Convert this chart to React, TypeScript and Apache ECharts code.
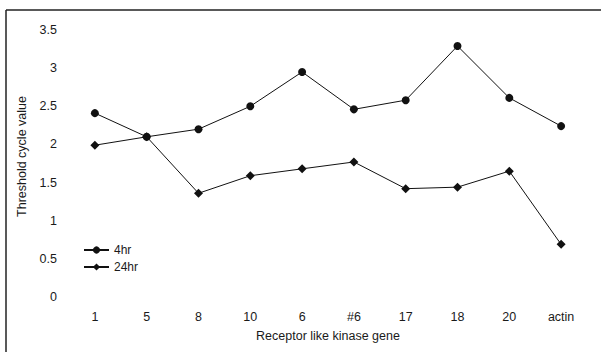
import React, { useEffect, useRef } from "react";
import * as echarts from "echarts";

const categories = ["1", "5", "8", "10", "6", "#6", "17", "18", "20", "actin"];
const hr4 = [2.41, 2.1, 2.2, 2.5, 2.95, 2.46, 2.58, 3.29, 2.61, 2.24];
const hr24 = [1.99, 2.1, 1.36, 1.59, 1.68, 1.77, 1.42, 1.44, 1.65, 0.69];
const seriesNames = ["4hr", "24hr"];

export default function App() {
  const ref = useRef<HTMLDivElement>(null);
  useEffect(() => {
    document.body.style.margin = "0";
    const chart = echarts.init(ref.current!, null, { renderer: "svg" });
    const font = "'Liberation Sans', Arial, sans-serif";
    const textColor = "#1a1a1a";
    const fs = 12.5;
    chart.setOption({
      animation: false,
      backgroundColor: "#ffffff",
      textStyle: { fontFamily: font, color: textColor },
      grid: { left: 69, right: 14, top: 30, bottom: 55 },
      legend: {
        orient: "vertical",
        left: 78,
        top: 239,
        itemWidth: 25,
        itemHeight: 9,
        itemGap: 5,
        textStyle: { fontSize: 12, color: textColor, fontFamily: font },
        data: seriesNames,
      },
      xAxis: {
        type: "category",
        data: categories,
        boundaryGap: true,
        axisLine: { show: false },
        axisTick: { show: false },
        axisLabel: { fontSize: fs, color: textColor, margin: 13, fontFamily: font },
        name: "Receptor like kinase gene",
        nameLocation: "middle",
        nameGap: 32,
        nameTextStyle: { fontSize: fs, color: textColor, fontFamily: font },
      },
      yAxis: {
        type: "value",
        min: 0,
        max: 3.5,
        interval: 0.5,
        axisLine: { show: false },
        axisTick: { show: false },
        splitLine: { show: false },
        axisLabel: { fontSize: fs, color: textColor, margin: 12, fontFamily: font },
        name: "Threshold cycle value",
        nameLocation: "middle",
        nameGap: 38,
        nameTextStyle: { fontSize: fs, color: textColor, fontFamily: font, padding: [0, 0, 0, 14] },
      },
      graphic: [
        { type: "line", shape: { x1: 6, y1: 10, x2: 601, y2: 10 }, style: { stroke: "#222", lineWidth: 1.5 } },
        { type: "line", shape: { x1: 6, y1: 10, x2: 6, y2: 352 }, style: { stroke: "#222", lineWidth: 1.5 } },
      ],
      series: [
        {
          name: seriesNames[0],
          type: "line",
          data: hr4,
          symbol: "circle",
          symbolSize: 8,
          lineStyle: { color: "#111", width: 1 },
          itemStyle: { color: "#111" },
        },
        {
          name: seriesNames[1],
          type: "line",
          data: hr24,
          symbol: "diamond",
          symbolSize: 9,
          lineStyle: { color: "#111", width: 1 },
          itemStyle: { color: "#111" },
        },
      ],
    });
    return () => chart.dispose();
  }, []);
  return <div ref={ref} style={{ position: "absolute", left: 0, top: 0, width: 601, height: 352 }} />;
}
